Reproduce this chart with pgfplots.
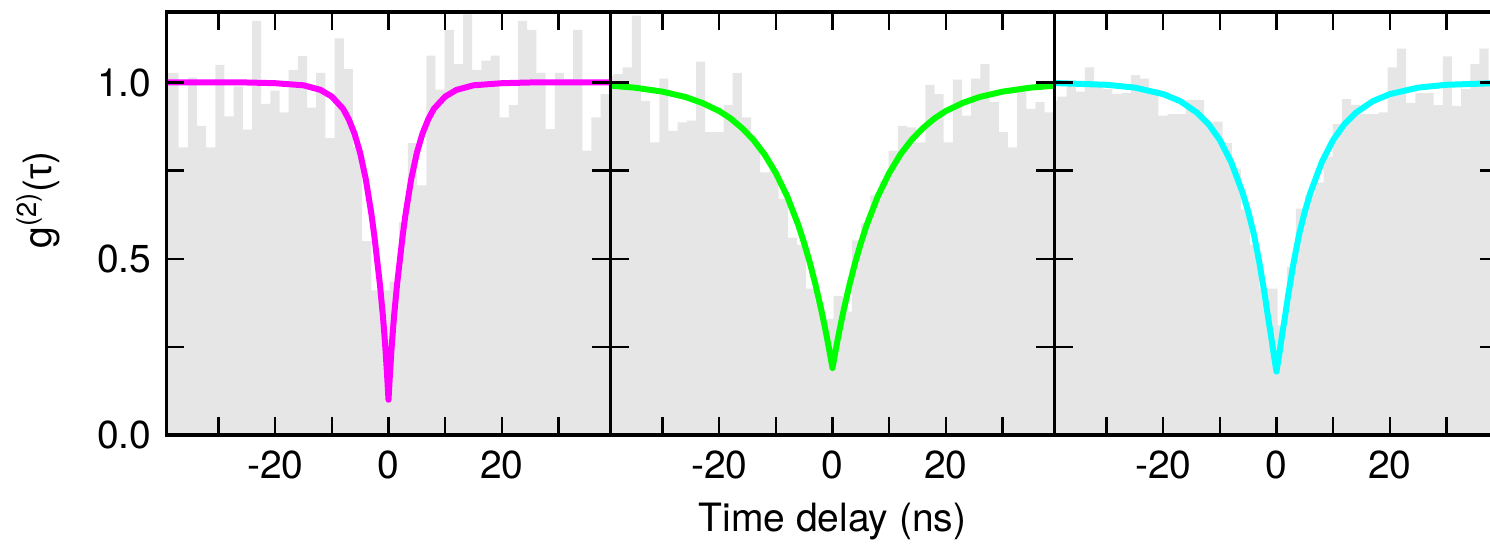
\documentclass[border=0pt]{standalone}
\usepackage{pgfplots}
\usepackage{pgfplotstable}
\pgfplotsset{compat=1.18}
\usepackage{fontspec}
\setmainfont{TeX Gyre Heros}
\newfontfamily\symfont{Liberation Sans}
\definecolor{hist}{RGB}{230,230,230}
\definecolor{mag}{RGB}{255,0,255}
\definecolor{grn}{RGB}{0,255,0}
\definecolor{cyn}{RGB}{0,255,255}

\pgfplotstableread{
x p1 p2 p3
-40.3 1.027 1.019 0.948
-38.68 1.027 1.024 0.96
-37.06 0.816 1.043 0.99
-35.44 1.014 1.19 0.974
-33.82 0.877 0.948 1.043
-32.2 0.816 0.83 0.99
-30.58 1.05 1.011 0.981
-28.96 0.904 0.863 0.967
-27.34 0.989 0.887 0.97
-25.72 0.866 0.892 1.021
-24.1 1.175 1.059 1.011
-22.48 0.939 0.859 0.97
-20.86 0.977 0.859 0.906
-19.24 0.915 0.936 0.91
-17.62 1.036 1.027 0.91
-16.0 1.075 0.901 0.951
-14.38 0.929 0.83 0.951
-12.76 1.027 0.745 0.885
-11.14 0.842 0.75 0.889
-9.52 1.125 0.67 0.828
-7.9 1.038 0.56 0.755
-6.28 0.817 0.54 0.64
-4.66 0.55 0.415 0.54
-3.04 0.41 0.377 0.415
-1.42 0.41 0.33 0.415
0.2 0.435 0.394 0.311
1.82 0.604 0.35 0.477
3.44 0.828 0.552 0.642
5.06 0.708 0.60 0.68
6.68 1.076 0.68 0.717
8.3 0.98 0.72 0.79
9.92 1.149 0.807 0.882
11.54 1.052 0.877 0.953
13.16 1.193 0.873 0.936
14.78 1.036 0.83 0.91
16.4 1.062 0.993 0.91
18.02 1.076 0.967 0.915
19.64 0.901 0.83 1.043
21.26 0.936 1.008 1.096
22.88 1.175 0.906 0.942
24.5 1.149 1.011 0.97
26.12 1.027 1.052 0.97
27.74 0.868 0.945 0.936
29.36 1.027 0.859 1.074
30.98 1.01 0.816 0.934
32.6 1.149 0.981 0.981
34.22 0.807 0.925 1.052
35.84 0.901 0.944 1.096
37.46 0.967 0.915 1.0
40.0 0.967 0.915 1.0
}\histdata

\pgfplotsset{
  panel/.style={
    scale only axis, width=222pt, height=211.5pt,
    xmin=-39.2, xmax=39.2, ymin=0, ymax=1.2,
    xtick={-20,0,20}, xticklabels={-20,0,20},
    minor xtick={-30,-10,10,30},
    ytick={0,0.5,1}, minor ytick={0.25,0.75},
    tick pos=both, tick align=inside,
    major tick length=9pt, minor tick length=9pt,
    tick style={black, line width=1.2pt},
    axis line style={black, line width=1.6pt},
    axis on top,
    xticklabel style={yshift=-4.5pt},
    yticklabel style={xshift=-4pt},
    font=\fontsize{19.5}{23}\selectfont,
    anchor=south west,
  },
  fit/.style={line width=3pt, line join=round, line cap=round},
}

\begin{document}
\begin{tikzpicture}
\begin{axis}[panel, at={(0pt,0pt)},
  yticklabels={0.0,0.5,1.0},
  ylabel={g\textsuperscript{(2)}({\symfont τ})},
  ylabel style={at={(axis description cs:-0.289,0.556)}, anchor=center}]
\addplot[const plot, fill=hist, draw=none] table[x=x, y=p1] {\histdata} \closedcycle;
\addplot[fit, mag] coordinates {
(-39.2,1.0) (-25,1.0) (-20,0.998) (-15,0.992) (-12,0.979) (-10,0.96) (-8,0.925) (-7,0.895) (-6,0.855) (-5,0.80) (-4,0.725) (-3,0.625) (-2.5,0.565) (-2,0.495) (-1.5,0.425) (-1,0.34) (-0.75,0.29) (-0.5,0.235) (-0.25,0.17) (0,0.10)
(0.25,0.17) (0.5,0.235) (0.75,0.29) (1,0.34) (1.5,0.425) (2,0.495) (2.5,0.565) (3,0.625) (4,0.725) (5,0.80) (6,0.855) (7,0.895) (8,0.925) (10,0.96) (12,0.979) (15,0.992) (20,0.998) (25,1.0) (39.2,1.0)};
\end{axis}

\begin{axis}[panel, at={(222pt,0pt)},
  yticklabels={},
  xlabel={Time delay (ns)},
  xlabel style={at={(axis description cs:0.5,0)}, anchor=center, yshift=-43.5pt}]
\addplot[const plot, fill=hist, draw=none] table[x=x, y=p2] {\histdata} \closedcycle;
\addplot[fit, grn] coordinates {
(-39.2,0.991) (-35,0.9855) (-30,0.974) (-26,0.959) (-23,0.942) (-20,0.919) (-18,0.898) (-16,0.871) (-14,0.838) (-12,0.796) (-10,0.743) (-8,0.677) (-6,0.594) (-5,0.544) (-4,0.489) (-3,0.426) (-2,0.356) (-1.5,0.318) (-1,0.278) (-0.5,0.235) (0,0.19)
(0.5,0.235) (1,0.278) (1.5,0.318) (2,0.356) (3,0.426) (4,0.489) (5,0.544) (6,0.594) (8,0.677) (10,0.743) (12,0.796) (14,0.838) (16,0.871) (18,0.898) (20,0.919) (23,0.942) (26,0.959) (30,0.974) (35,0.9855) (39.2,0.991)};
\end{axis}

\begin{axis}[panel, at={(444pt,0pt)},
  yticklabels={}]
\addplot[const plot, fill=hist, draw=none] table[x=x, y=p3] {\histdata} \closedcycle;
\addplot[fit, cyn] coordinates {
(-39.2,0.9985) (-30,0.9935) (-25,0.9855) (-20,0.967) (-17,0.947) (-14,0.914) (-12,0.882) (-10,0.837) (-8,0.774) (-6,0.688) (-5,0.634) (-4,0.570) (-3,0.487) (-2,0.39) (-1.5,0.335) (-1,0.285) (-0.5,0.23) (0,0.18)
(0.5,0.23) (1,0.285) (1.5,0.335) (2,0.39) (3,0.487) (4,0.570) (5,0.634) (6,0.688) (8,0.774) (10,0.837) (12,0.882) (14,0.914) (17,0.947) (20,0.967) (25,0.9855) (30,0.9935) (39.2,0.9985)};
\end{axis}

\pgfresetboundingbox
\useasboundingbox (-83.25pt,-55.5pt) rectangle (661.75pt,217.5pt);
\end{tikzpicture}
\end{document}
